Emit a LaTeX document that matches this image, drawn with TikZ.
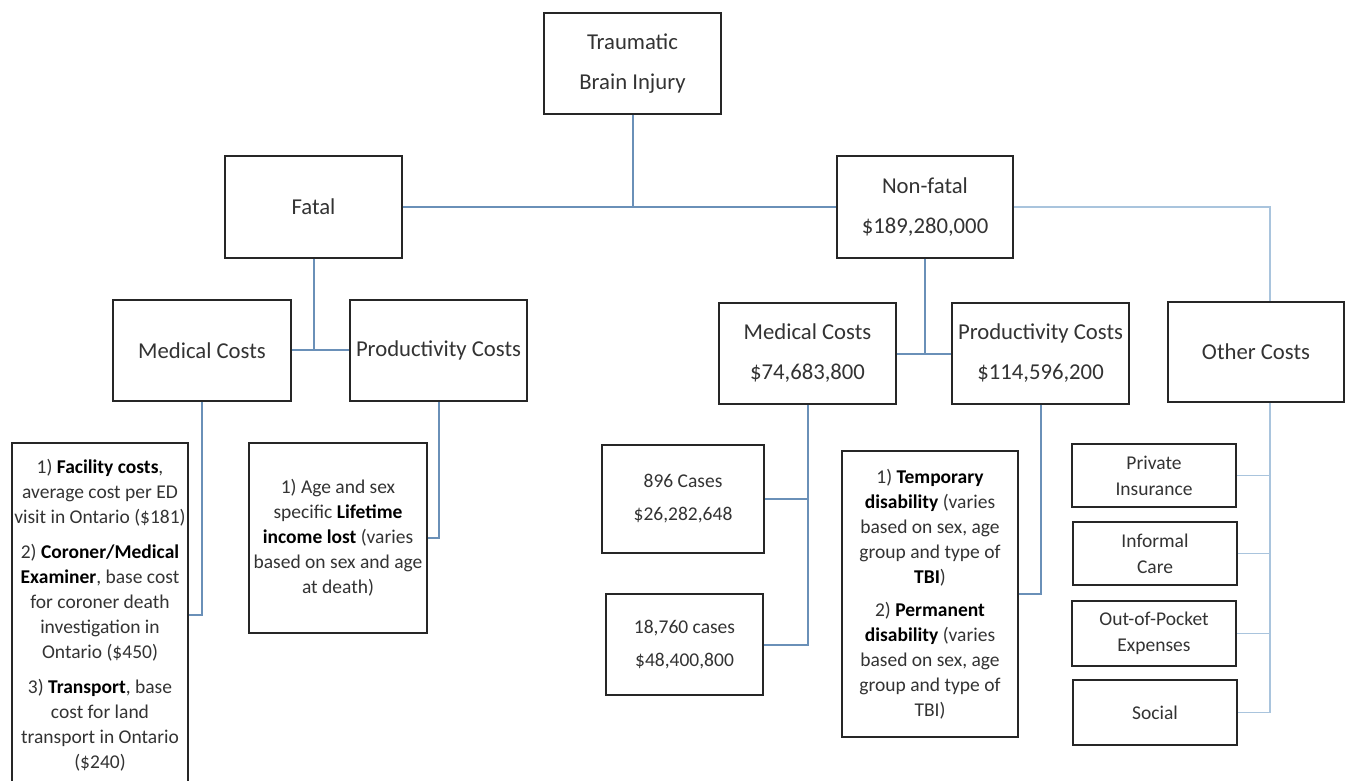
\documentclass[tikz,border=0pt]{standalone}
\usepackage{fontspec}
\setmainfont{Carlito}
\definecolor{txt}{HTML}{333333}
\definecolor{edge}{HTML}{262626}
\definecolor{link}{HTML}{6A90B8}
\definecolor{linklight}{HTML}{A9C4DD}
\tikzset{
  box/.style={draw=edge, line width=1.6pt, fill=white, inner sep=0pt, align=center, text=txt},
  mainbox/.style={box, font=\fontsize{22.7}{40}\selectfont},
  notebox/.style={box, font=\fontsize{19.5}{25}\selectfont},
  casebox/.style={box, font=\fontsize{19.5}{33}\selectfont},
  smallbox/.style={box, font=\fontsize{19.5}{26}\selectfont},
  wire/.style={draw=link, line width=2pt},
  thinwire/.style={draw=linklight, line width=1.5pt},
}
\newcommand{\hl}[1]{\textbf{\color{black}#1}}
\begin{document}
\begin{tikzpicture}[x=1pt, y=-1pt]
\useasboundingbox (0,0) rectangle (1349,780);

% top levels
\node[mainbox, minimum width=177pt, minimum height=101pt] (tbi) at (632.5,63.5) {Traumatic\\Brain Injury};
\node[mainbox, minimum width=177pt, minimum height=102pt] (fatal) at (313.5,207) {Fatal};
\node[mainbox, minimum width=176pt, minimum height=102pt] (nonfatal) at (925,207) {Non-fatal\\\$189,280,000};

% cost categories
\node[mainbox, minimum width=178pt, minimum height=101pt] (fmed) at (202,350.5) {Medical Costs};
\node[mainbox, minimum width=177pt, minimum height=101pt] (fprod) at (438.5,350.5) {Productivity Costs};
\node[mainbox, minimum width=177pt, minimum height=101pt] (nmed) at (807.5,353.5) {Medical Costs\\\$74,683,800};
\node[mainbox, minimum width=177pt, minimum height=101pt] (nprod) at (1040.5,353.5) {Productivity Costs\\\$114,596,200};
\node[mainbox, minimum width=176pt, minimum height=100pt] (other) at (1256,352) {Other Costs};

% fatal details
\node[notebox, minimum width=176pt, minimum height=344pt] (fmednote) at (100,615)
  {1) \hl{Facility costs},\\average cost per ED\\visit in Ontario (\$181)\\[10pt]
   2) \hl{Coroner/Medical}\\\hl{Examiner}, base cost\\for coroner death\\investigation in\\Ontario (\$450)\\[10pt]
   3) \hl{Transport}, base\\cost for land\\transport in Ontario\\(\$240)};
\node[notebox, minimum width=178pt, minimum height=190pt] (fprodnote) at (338,538)
  {1) Age and sex\\specific \hl{Lifetime}\\\hl{income lost} (varies\\based on sex and age\\at death)};

% non-fatal details
\node[casebox, minimum width=162pt, minimum height=108pt] (casesa) at (683,499) {896 Cases\\\$26,282,648};
\node[casebox, minimum width=157pt, minimum height=101pt] (casesb) at (684.5,644.5) {18,760 cases\\\$48,400,800};
\node[notebox, minimum width=176pt, minimum height=286pt] (nprodnote) at (930,594)
  {1) \hl{Temporary}\\\hl{disability} (varies\\based on sex, age\\group and type of\\\hl{TBI})\\[8pt]
   2) \hl{Permanent}\\\hl{disability} (varies\\based on sex, age\\group and type of\\TBI)};

% other cost items
\node[smallbox, minimum width=164pt, minimum height=63pt] (insur) at (1154,475.5) {Private\\Insurance};
\node[smallbox, minimum width=164pt, minimum height=63pt] (care) at (1155,553.5) {Informal\\Care};
\node[smallbox, minimum width=164pt, minimum height=65pt] (pocket) at (1154,633.5) {Out-of-Pocket\\Expenses};
\node[smallbox, minimum width=164pt, minimum height=65pt] (social) at (1155,712.5) {Social};

% junction points of the tree
\coordinate (split) at (632.5,207);
\coordinate (frail) at (313.5,350);
\coordinate (nrail) at (925,354);
\coordinate (orail) at (1270,207);
\coordinate (oend) at (1270,712.5);

% connectors
\draw[wire] (tbi.south) -- (split);
\draw[wire] (fatal.east) -- (nonfatal.west);
\draw[wire] (fatal.south) -- (frail);
\draw[wire] (fmed.east |- frail) -- (fprod.west |- frail);
\draw[wire] (nonfatal.south) -- (nrail);
\draw[wire] (nmed.east |- nrail) -- (nprod.west |- nrail);
\draw[wire] (fmed.south) |- (fmednote.east);
\draw[wire] (fprod.south) |- (fprodnote.east);
\draw[wire] (nmed.south) |- (casesb.east);
\draw[wire] (nmed.south |- casesa.east) -- (casesa.east);
\draw[wire] (nprod.south) |- (nprodnote.east);
\draw[thinwire] (nonfatal.east) -- (orail) -- (orail |- other.north);
\draw[thinwire] (orail |- other.south) -- (oend) -- (social.east);
\draw[thinwire] (orail |- insur.east) -- (insur.east);
\draw[thinwire] (orail |- care.east) -- (care.east);
\draw[thinwire] (orail |- pocket.east) -- (pocket.east);
\end{tikzpicture}
\end{document}
